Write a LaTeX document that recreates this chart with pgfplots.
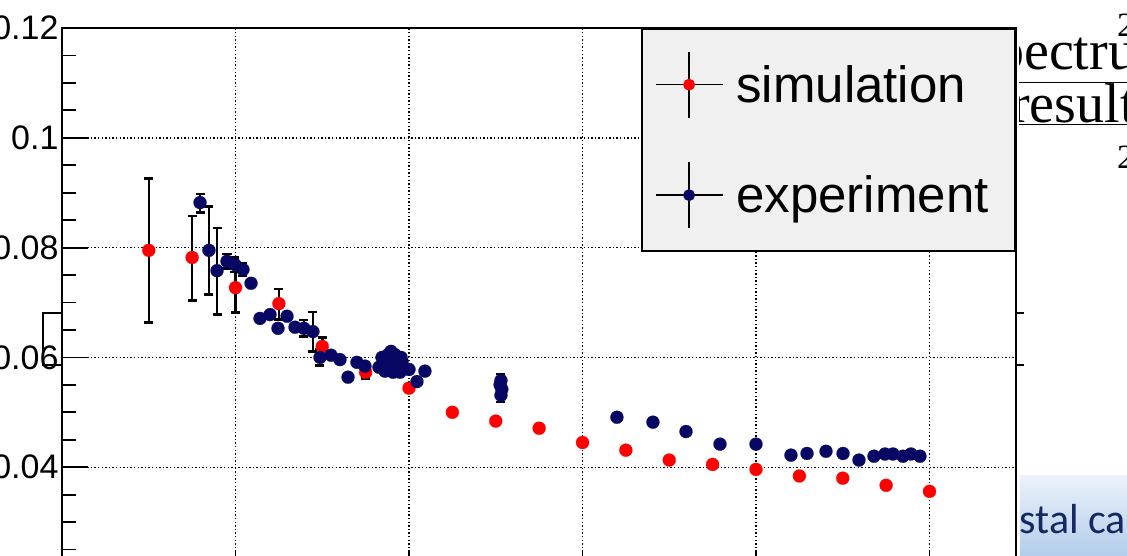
\documentclass[border=0pt]{standalone}
\usepackage{fontspec}
\setmainfont{Liberation Sans}
\newfontfamily\slideserif{Liberation Serif}
\newfontfamily\slidesans{Carlito}
\usepackage{pgfplots}
\pgfplotsset{compat=1.18}
\usepackage{pgfplotstable}
\definecolor{rootred}{RGB}{255,0,0}
\definecolor{rootnavy}{RGB}{8,8,100}
\definecolor{legendgray}{RGB}{240,240,240}
\definecolor{slidetext}{RGB}{20,40,100}
\definecolor{boxtop}{RGB}{236,242,250}
\definecolor{boxbot}{RGB}{176,203,234}

\pgfplotstableread{
x y ep em
100 0.0795 0.0131 0.0131
150 0.0782 0.0076 0.0078
200 0.0727 0.0029 0.0045
250 0.0698 0.0027 0.0029
300 0.0620 0.0016 0.0015
350 0.0573 0.0000 0.0011
400 0.0544 0 0
450 0.0500 0 0
500 0.0484 0 0
550 0.0471 0 0
600 0.0445 0 0
650 0.0431 0 0
700 0.0413 0 0
750 0.0405 0 0
800 0.0396 0 0
850 0.0384 0 0
900 0.0380 0 0
950 0.0367 0 0
1000 0.0356 0 0
}\simtab

\pgfplotstableread{
x y ep em
159.1 0.0882 0.0016 0.0018
169.4 0.0795 0.0080 0.0080
178.7 0.0758 0.0078 0.0080
190.2 0.0775 0.0013 0.0013
199.4 0.0769 0.0013 0.0013
208.6 0.0760 0.0012 0.0012
217.9 0.0735 0 0
228.2 0.0671 0 0
239.8 0.0678 0 0
249.0 0.0653 0 0
259.4 0.0675 0 0
268.6 0.0655 0 0
278.9 0.0653 0.0015 0.0015
289.3 0.0647 0.0036 0.0036
297.4 0.0600 0.0015 0.0015
310.1 0.0604 0 0
320.4 0.0596 0 0
329.7 0.0564 0 0
340.0 0.0591 0 0
349.3 0.0584 0 0
365.4 0.0582 0 0
368.9 0.0600 0 0
372.3 0.0575 0 0
375.8 0.0605 0 0
378.1 0.0589 0 0
379.2 0.0611 0 0
381.5 0.0573 0 0
383.8 0.0605 0 0
386.1 0.0585 0 0
389.6 0.0573 0 0
390.8 0.0600 0 0
392.0 0.0592 0 0
400.0 0.0578 0 0
409.2 0.0556 0 0
418.4 0.0575 0 0
506.0 0.0558 0.0012 0
505.0 0.0550 0 0
507.0 0.0542 0 0
506.0 0.0531 0 0.0012
639.7 0.0491 0 0
681.2 0.0482 0 0
719.3 0.0465 0 0
758.5 0.0442 0 0
800.0 0.0442 0 0
840.3 0.0422 0 0
858.8 0.0425 0 0
880.7 0.0429 0 0
900.3 0.0425 0 0
918.7 0.0413 0 0
936.0 0.0420 0 0
948.7 0.0424 0 0
957.9 0.0424 0 0
969.4 0.0420 0 0
978.6 0.0424 0 0
989.0 0.0420 0 0
}\exptab

\begin{document}
\begin{tikzpicture}
\useasboundingbox (0pt,0pt) rectangle (1127pt,-555pt);
\begin{scope}
\clip (0pt,0pt) rectangle (1127pt,-555pt);
% slide background fragments
\fill[top color=boxtop, bottom color=boxbot] (1020pt,-475pt) rectangle (1140pt,-560pt);
\node[anchor=base west, inner sep=0pt, text=slidetext, font=\slidesans\fontsize{42}{50}\selectfont] at (968pt,-533pt) {crystal calibration};
\node[anchor=base west, inner sep=0pt, font=\slideserif\fontsize{56}{64}\selectfont] at (996pt,-69pt) {\underline{pectrum}};
\node[anchor=base west, inner sep=0pt, font=\slideserif\fontsize{56}{64}\selectfont] at (1011pt,-122pt) {\underline{result}};
\node[anchor=base west, inner sep=0pt, font=\slideserif\fontsize{34}{40}\selectfont] at (1117pt,-36pt) {2};
\node[anchor=base west, inner sep=0pt, font=\slideserif\fontsize{34}{40}\selectfont] at (1117pt,-168pt) {2};
% white canvas
\fill[white] (-5pt,5pt) rectangle (1019pt,-560pt);
\begin{axis}[
  at={(62pt,-28pt)}, anchor=north west,
  scale only axis, width=954.25pt, height=549pt,
  xmin=0, xmax=1100, ymin=0.02, ymax=0.12,
  axis line style={line width=1.8pt},
  xtick={200,400,600,800,1000},
  ytick={0.02,0.04,0.06,0.08,0.1,0.12},
  minor y tick num=3,
  xtick pos=bottom, ytick pos=left,
  tick align=inside,
  major tick length=26pt, minor tick length=14pt,
  tick style={black, line width=1.8pt},
  grid=major,
  major grid style={black, line width=1.4pt, dash pattern=on 1.4pt off 2.2pt},
  yticklabel style={font=\fontsize{34}{40}\selectfont},
  y tick label style={/pgf/number format/.cd, fixed, precision=2, assume math mode=true},
  xticklabels={},
  legend cell align=left,
  legend style={at={(1,1)}, anchor=north east, draw=black, line width=1.8pt,
    fill=legendgray, font=\fontsize{51}{60}\selectfont,
    inner xsep=13pt, inner ysep=22pt, row sep=43pt, column sep=13pt,
    nodes={inner xsep=0pt, inner ysep=0pt, anchor=west, text width=266pt, align=left}},
]
\addplot[color=rootred, only marks, mark=*, mark size=6.5pt,
  mark options={solid, fill=rootred, draw=rootred, line width=0.2pt},
  /pgfplots/legend image code/.code={
    \draw[black, line width=1.5pt] (0pt,0pt) -- (67pt,0pt) (33.5pt,-33pt) -- (33.5pt,33pt);
    \fill[rootred] (33.5pt,0pt) circle (5pt);},
  error bars/.cd, y dir=both, y explicit,
  error bar style={draw=black, line width=2.5pt},
  error mark=-,
  error mark options={draw=black, line width=2.5pt, mark size=4.5pt, rotate=90}
] table[x=x, y=y, y error plus=ep, y error minus=em] {\simtab};
\addlegendentry{simulation}
\addplot[color=rootnavy, only marks, mark=*, mark size=6.5pt,
  mark options={solid, fill=rootnavy, draw=rootnavy, line width=0.2pt},
  /pgfplots/legend image code/.code={
    \draw[black, line width=1.5pt] (0pt,0pt) -- (67pt,0pt) (33.5pt,-33pt) -- (33.5pt,33pt);
    \fill[rootnavy] (33.5pt,0pt) circle (5pt);},
  error bars/.cd, y dir=both, y explicit,
  error bar style={draw=black, line width=2.5pt},
  error mark=-,
  error mark options={draw=black, line width=2.5pt, mark size=4.5pt, rotate=90}
] table[x=x, y=y, y error plus=ep, y error minus=em] {\exptab};
\addlegendentry{experiment}
\end{axis}
% overlapping slide bracket
\draw[black, line width=1.6pt] (62pt,-313pt) -- (43pt,-313pt) -- (43pt,-365pt) -- (62pt,-365pt);
\draw[black, line width=1.6pt] (1017pt,-313pt) -- (1024pt,-313pt) (1017pt,-365pt) -- (1024pt,-365pt);
\end{scope}
\end{tikzpicture}
\end{document}
